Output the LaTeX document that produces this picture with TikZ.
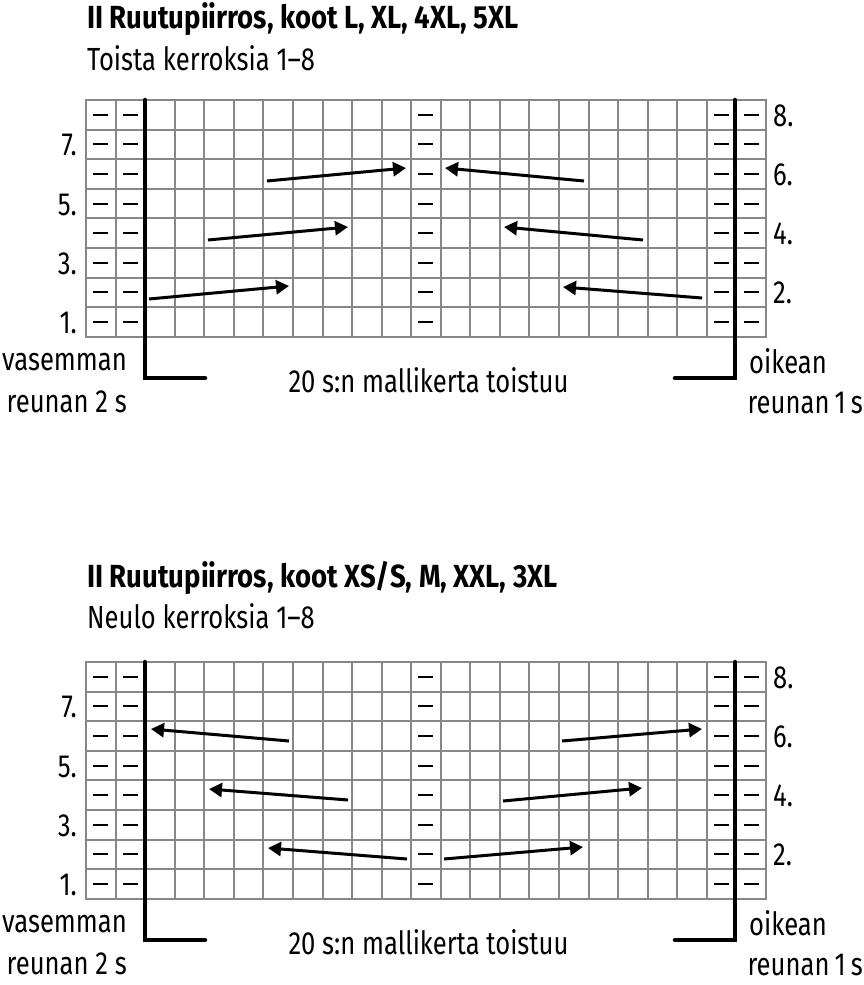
\documentclass[tikz,border=0pt]{standalone}
\usepackage{fontspec}
\setmainfont{Fira Sans}[FakeStretch=0.8,BoldFeatures={FakeStretch=0.86}]
\usetikzlibrary{arrows.meta}
\definecolor{rasteri}{gray}{0.53}
\tikzset{rasti/.style={draw=rasteri,line width=2bp},
         miinus/.style={line width=2bp},
         reuna/.style={line width=4.5bp,line cap=round},
         nuoli/.style={line width=3bp,-{Triangle[length=13bp,width=14bp]}},
         teksti/.style={inner sep=0pt,font=\fontsize{32bp}{38bp}\selectfont},
         otsikko/.style={teksti,font=\fontsize{32bp}{38bp}\selectfont\bfseries}}

% ruudukko, reunaviivat ja numerot; #1 = nimien etuliite
\newcommand\ruudukko[1]{%
  \foreach \i in {0,...,23}
    \draw[rasti] ({round(86+\i*29.565)},100) -- ({round(86+\i*29.565)},337);
  \foreach \j in {0,...,8}
    \draw[rasti] (85,{round(100+\j*29.6)}) -- (767,{round(100+\j*29.6)});
  \foreach \c in {1,2,12,22,23}
    \foreach \r in {1,...,8}
      \draw[miinus] ({round(86+(\c-0.5)*29.565-7.5)},{round(100+(\r-0.5)*29.6)}) -- ++(15,0);
  \foreach \n in {1,3,5,7}
    \node[teksti,anchor=base east] (#1v\n) at (77,{100+(8-\n+0.5)*29.6+11.5}) {\n.};
  \foreach \n in {2,4,6,8}
    \node[teksti,anchor=base west] (#1o\n) at (773,{100+(8-\n+0.5)*29.6+11.5}) {\n.};
  \draw[reuna] (145,100) -- (145,378) -- (205,378);
  \draw[reuna] (735,100) -- (735,378) -- (675,378);
  \node[teksti,anchor=base east] (#1vas) at (127,370) {vasemman};
  \node[teksti,anchor=base east] (#1vasr) at (127,412) {reunan 2 s};
  \node[teksti,anchor=base] (#1malli) at (428.5,392) {20 s:n mallikerta toistuu};
  \node[teksti,anchor=base west] (#1oik) at (749,373) {oikean};
  \node[teksti,anchor=base east] (#1oikr) at (863,413) {reunan\hspace{0.16em}1\hspace{0.16em}s};
}

\begin{document}
\begin{tikzpicture}[x=1bp,y=-1bp]
\useasboundingbox (0,0) rectangle (864,985);

% koot L, XL, 4XL, 5XL
\node[otsikko,anchor=base west] (otsikko1) at (87,28) {II Ruutupiirros, koot L, XL, 4XL, 5XL};
\node[teksti,anchor=base west] (ohje1) at (87,70) {Toista kerroksia 1–8};
\ruudukko{a}
\draw[nuoli] (149,299) -- (289,286);
\draw[nuoli] (208,240) -- (348,227);
\draw[nuoli] (267,181) -- (406,168);
\draw[nuoli] (584,181) -- (445,168);
\draw[nuoli] (643,240) -- (504,227);
\draw[nuoli] (702,298) -- (563,287);

% koot XS/S, M, XXL, 3XL
\node[otsikko,anchor=base west] (otsikko2) at (87,587) {II Ruutupiirros, koot XS/S, M, XXL, 3XL};
\node[teksti,anchor=base west] (ohje2) at (87,628) {Neulo kerroksia 1–8};
\begin{scope}[shift={(0,562)}]
\ruudukko{b}
\draw[nuoli] (289,179) -- (151,167);
\draw[nuoli] (348,238) -- (209,227);
\draw[nuoli] (407,297) -- (268,286);
\draw[nuoli] (562,179) -- (702,167);
\draw[nuoli] (503,239) -- (642,226);
\draw[nuoli] (444,297) -- (583,285);
\end{scope}
\end{tikzpicture}
\end{document}
